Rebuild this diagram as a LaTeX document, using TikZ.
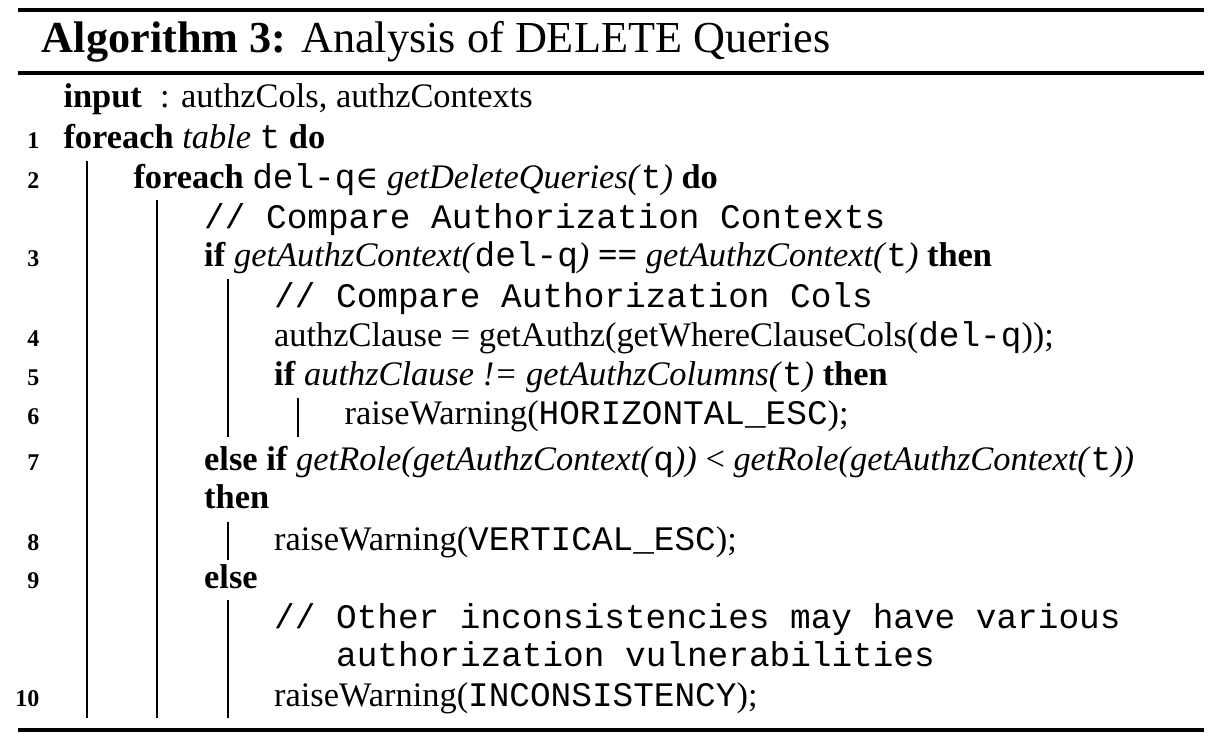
\documentclass[tikz,border=0pt]{standalone}
\usepackage{fontspec}
\setmainfont{Liberation Serif}
\setmonofont{Liberation Mono}
\newfontfamily\symf{DejaVu Serif}[Scale=0.9]
\newcommand\kwd[1]{\textbf{#1}}
\newcommand\argi[1]{\textit{#1}}
\newcommand\cde[1]{\texttt{#1}}
\tikzset{
  txt/.style={anchor=base west, inner sep=0pt, font=\fontsize{34.4}{40}\selectfont},
  num/.style={anchor=base east, inner sep=0pt, font=\fontsize{24}{28}\selectfont\bfseries},
  ttl/.style={anchor=base west, inner sep=0pt, font=\fontsize{44.25}{50}\selectfont},
  bar/.style={line width=2pt},
}
\begin{document}
\begin{tikzpicture}[x=1pt,y=-1pt]
\useasboundingbox (0,0) rectangle (1224,738);
% rules
\draw[line width=3.3pt] (18.3,10) -- (1204,10);
\draw[line width=4pt] (18.3,72.7) -- (1204,72.7);
\draw[line width=4.5pt] (18.3,730) -- (1204,730);
% title
\node[ttl] (title) at (41.7,52.7) {\textbf{Algorithm 3:} Analysis of DELETE Queries};
% input
\node[txt] (inp) at (63.3,107.7) {\kwd{input}};
\node[txt] (inpv) at (160,107.7) {: authzCols, authzContexts};
% line numbers
\node[num] (n1) at (39.5,148.3) {1};
\node[num] (n2) at (39.5,188.3) {2};
\node[num] (n3) at (39.5,266.7) {3};
\node[num] (n4) at (39.5,346.7) {4};
\node[num] (n5) at (39.5,385) {5};
\node[num] (n6) at (39.5,424) {6};
\node[num] (n7) at (39.5,470) {7};
\node[num] (n8) at (39.5,550) {8};
\node[num] (n9) at (39.5,588.3) {9};
\node[num] (n10) at (39.5,706.7) {10};
% body
\node[txt] (l1) at (63.3,148.3) {\kwd{foreach} \argi{table} \cde{t} \kwd{do}};
\node[txt] (l2) at (133.3,188.3) {\kwd{foreach} \cde{del-q}{\symf ∈} \argi{getDeleteQueries(}\cde{t}\argi{)} \kwd{do}};
\node[txt] (c1) at (204,228.3) {\cde{// Compare Authorization Contexts}};
\node[txt] (l3) at (204,266.7) {\kwd{if} \argi{getAuthzContext(}\cde{del-q}\argi{)} \kwd{==} \argi{getAuthzContext(}\cde{t}\argi{)} \kwd{then}};
\node[txt] (c2) at (274,308) {\cde{// Compare Authorization Cols}};
\node[txt] (l4) at (274,346.7) {authzClause = getAuthz(getWhereClauseCols(\cde{del-q}));};
\node[txt] (l5) at (274,385) {\kwd{if} \argi{authzClause != getAuthzColumns(}\cde{t}\argi{)} \kwd{then}};
\node[txt] (l6) at (344.5,424) {raiseWarning(\cde{HORIZONTAL\_ESC});};
\node[txt] (l7) at (204,470) {\kwd{else if} \argi{getRole(getAuthzContext(}\cde{q}\argi{))} < \argi{getRole(getAuthzContext(}\cde{t}\argi{))}};
\node[txt] (l7b) at (204,508.3) {\kwd{then}};
\node[txt] (l8) at (274,550) {raiseWarning(\cde{VERTICAL\_ESC});};
\node[txt] (l9) at (204,588.3) {\kwd{else}};
\node[txt] (c3) at (274,628.3) {\cde{// Other inconsistencies may have various}};
\node[txt] (c3b) at (336,666.7) {\cde{authorization vulnerabilities}};
\node[txt] (l10) at (274,706.7) {raiseWarning(\cde{INCONSISTENCY});};
% block bars
\draw[bar] (87.3,161) -- (87.3,718.3);
\draw[bar] (157.3,200) -- (157.3,718.3);
\draw[bar] (227.8,279) -- (227.8,436.7);
\draw[bar] (298.3,398) -- (298.3,436.7);
\draw[bar] (227.8,521.7) -- (227.8,560);
\draw[bar] (227.8,600) -- (227.8,718.3);
\end{tikzpicture}
\end{document}
